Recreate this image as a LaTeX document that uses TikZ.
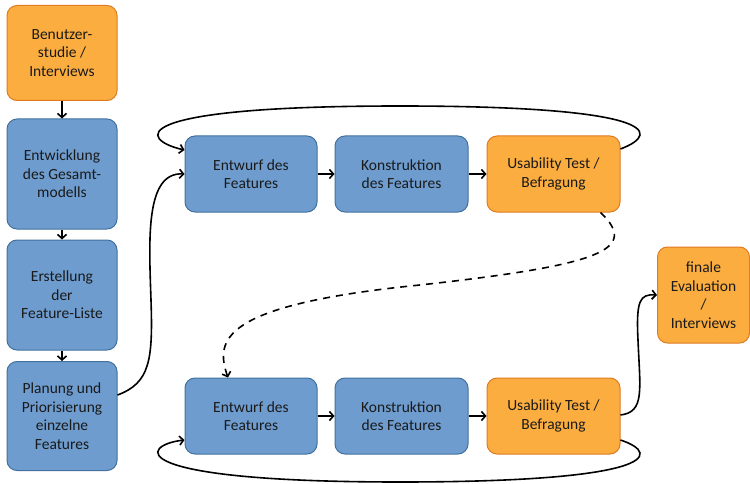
\documentclass[tikz,border=0pt]{standalone}
\usepackage{fontspec}
\setmainfont{Carlito}
\usetikzlibrary{arrows.meta}
\definecolor{ofill}{HTML}{FBAD40}
\definecolor{odraw}{HTML}{E07B22}
\definecolor{bfill}{HTML}{6E9CCE}
\definecolor{bdraw}{HTML}{41719C}
\definecolor{txt}{HTML}{1A1A1A}
\begin{document}
\begin{tikzpicture}[x=1pt,y=-1pt,
  box/.style={rounded corners=10pt, line width=1pt, align=center, text=txt,
    font=\fontsize{15.5}{18.5}\selectfont, inner sep=0pt},
  obox/.style={box, fill=ofill, draw=odraw},
  bbox/.style={box, fill=bfill, draw=bdraw},
  conn/.style={line width=1.6pt, -{Straight Barb[length=4pt,width=9pt]}},
  dconn/.style={conn, dash pattern=on 7pt off 6pt}
]
\useasboundingbox (0,0) rectangle (750,484);
% left column
\node[obox, minimum width=110pt, minimum height=95pt] (b1) at (62,53) {Benutzer-\\studie /\\Interviews};
\node[bbox, minimum width=110pt, minimum height=110pt] (b2) at (62,174) {Entwicklung\\des Gesamt-\\modells};
\node[bbox, minimum width=110pt, minimum height=110pt] (b3) at (62,295) {Erstellung\\der\\Feature-Liste};
\node[bbox, minimum width=110pt, minimum height=109pt] (b4) at (62,416) {Planung und\\Priorisierung\\einzelne\\Features};
% top row
\node[bbox, minimum width=132pt, minimum height=76pt] (e1) at (251,174) {Entwurf des\\Features};
\node[bbox, minimum width=133pt, minimum height=76pt] (k1) at (401.5,174) {Konstruktion\\des Features};
\node[obox, minimum width=133pt, minimum height=76pt] (u1) at (553.5,174) {Usability Test /\\Befragung};
% bottom row
\node[bbox, minimum width=132pt, minimum height=76pt] (e2) at (251,416) {Entwurf des\\Features};
\node[bbox, minimum width=133pt, minimum height=76pt] (k2) at (401.5,416) {Konstruktion\\des Features};
\node[obox, minimum width=133pt, minimum height=76pt] (u2) at (553.5,416) {Usability Test /\\Befragung};
% final
\node[obox, minimum width=92pt, minimum height=96pt] (f) at (703.5,295) {finale\\Evaluation\\/\\Interviews};
% vertical arrows
\draw[conn] (b1.south) -- (b2.north);
\draw[conn] (b2.south) -- (b3.north);
\draw[conn] (b3.south) -- (b4.north);
% horizontal arrows
\draw[conn] (e1.east) -- (k1.west);
\draw[conn] (k1.east) -- (u1.west);
\draw[conn] (e2.east) -- (k2.west);
\draw[conn] (k2.east) -- (u2.west);
% coordinates
\coordinate (u1r) at ([yshift=25pt]u1.east);
\coordinate (e1l) at ([yshift=24pt]e1.west);
\coordinate (u2r) at ([yshift=-24pt]u2.east);
\coordinate (e2l) at ([yshift=-24pt]e2.west);
\coordinate (b4r) at ([yshift=21pt]b4.east);
\coordinate (u1b) at ([xshift=47pt]u1.south);
\coordinate (e2t) at ([xshift=-23pt]e2.north);
\coordinate (u2rb) at ([yshift=1pt]u2.east);
% top loop
\draw[conn] (u1r) .. controls (665,132) and (650,106) .. (400,106)
  .. controls (120,106) and (140,140) .. (e1l);
% bottom loop
\draw[conn] (u2r) .. controls (665,455) and (650,482) .. (400,482)
  .. controls (120,482) and (140,445) .. (e2l);
% Planung -> Entwurf top
\draw[conn] (b4r) .. controls (150,383) and (153,360) .. (151,300)
  .. controls (149,240) and (145,172) .. (e1.west);
% dashed connection
\draw[dconn] (u1b) .. controls (640,250) and (600,265) .. (420,285)
  .. controls (220,305) and (215,340) .. (e2t);
% Usability -> finale
\draw[conn] (u2rb) .. controls (645,412) and (640,390) .. (638,340)
  .. controls (636,300) and (640,294) .. (f.west);
\end{tikzpicture}
\end{document}
